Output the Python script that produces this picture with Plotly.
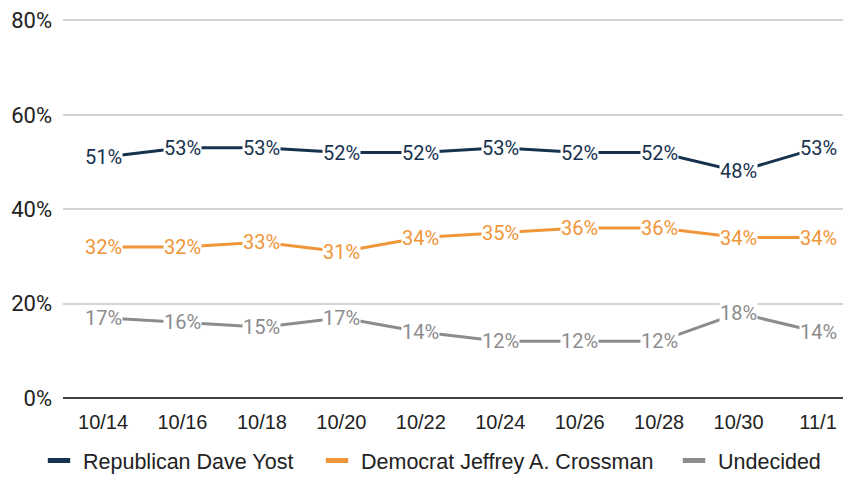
import plotly.graph_objects as go

dates = ["10/14", "10/16", "10/18", "10/20", "10/22", "10/24", "10/26", "10/28", "10/30", "11/1"]
yost = [51, 53, 53, 52, 52, 53, 52, 52, 48, 53]
crossman = [32, 32, 33, 31, 34, 35, 36, 36, 34, 34]
undecided = [17, 16, 15, 17, 14, 12, 12, 12, 18, 14]

series = [
    ("Republican Dave Yost", yost, "#17324F"),
    ("Democrat Jeffrey A. Crossman", crossman, "#F0963A"),
    ("Undecided", undecided, "#8C8C8C"),
]
y_ticks = [0, 20, 40, 60, 80]
y_max = 80.3

# page body has an 8px default margin; compensate
W, H = 843, 473
L, T = 55, 7
plot_w = W - L
plot_h = round(386 * y_max / 80)
B = H - T - plot_h

legend_x_px = [27, 305, 662]  # left of each legend box in figure px
legend_names = ["legend", "legend2", "legend3"]

fig = go.Figure()
annotations = []
for i, (name, vals, color) in enumerate(series):
    fig.add_trace(go.Scatter(x=dates, y=vals, mode="lines", line=dict(color=color, width=3),
                             showlegend=False, hoverinfo="skip"))
    fig.add_trace(go.Scatter(x=[None], y=[None], mode="markers", name=name,
                             legend=legend_names[i],
                             marker=dict(symbol="line-ew", size=21, color=color,
                                         line=dict(color=color, width=7))))
    for d, v in zip(dates, vals):
        annotations.append(dict(x=d, y=v, xref="x", yref="y", text=f"{v}%", showarrow=False,
                                font=dict(family="Roboto", size=20, color=color),
                                bgcolor="white", borderpad=0))

leg_common = dict(orientation="h", yanchor="middle", xanchor="left",
                  font=dict(family="Liberation Sans", size=21.5, color="#222222"),
                  itemwidth=38, bgcolor="rgba(0,0,0,0)", borderwidth=0)
leg_y = (T + plot_h - (466 - 8)) / plot_h
layout_legends = {}
for i, ln in enumerate(legend_names):
    layout_legends[ln] = dict(leg_common, x=(legend_x_px[i] - L) / plot_w, y=leg_y)

fig.update_layout(
    width=W, height=H,
    margin=dict(l=L, r=0, t=T, b=B),
    plot_bgcolor="white", paper_bgcolor="white",
    annotations=annotations,
    **layout_legends,
    xaxis=dict(type="category", range=[-0.504, 9.415], showgrid=False, showline=False,
               ticks="", tickfont=dict(family="Liberation Sans", size=20, color="#222222"),
               ticklabelstandoff=10, fixedrange=True),
    yaxis=dict(range=[0, y_max], tickvals=y_ticks, ticktext=[f"{t}%" for t in y_ticks],
               showgrid=True, gridcolor="#D4D4D4", gridwidth=1.5,
               zeroline=True, zerolinecolor="#404040", zerolinewidth=2,
               tickfont=dict(family="Roboto", size=22, color="#222222"),
               ticklabelstandoff=10, ticklabeloverflow="allow", fixedrange=True),
)
fig.write_html("out.html")
